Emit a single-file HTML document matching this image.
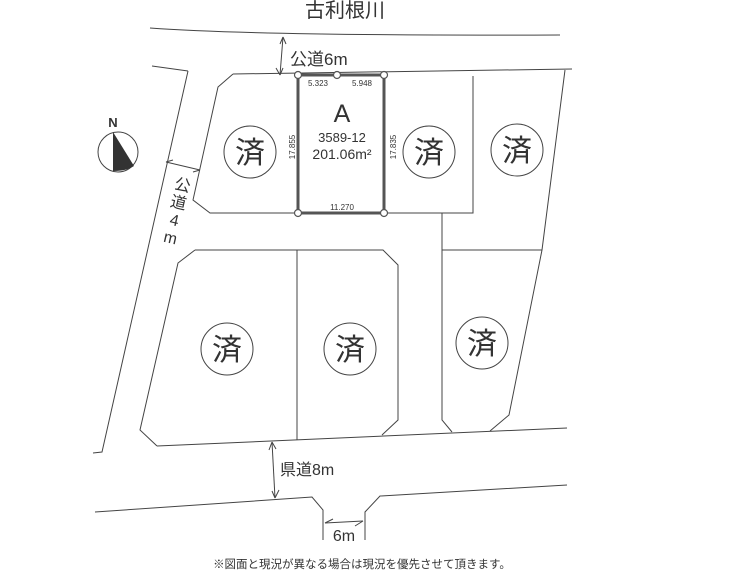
<!DOCTYPE html>
<html><head><meta charset="utf-8"><style>
html,body{margin:0;padding:0;background:#fff;}
svg{display:block;}
text{font-family:"Liberation Sans","Noto Sans CJK JP",sans-serif;fill:#333;}
</style></head><body>
<svg width="747" height="578" viewBox="0 0 747 578" xmlns="http://www.w3.org/2000/svg">
<g fill="none" stroke="#444" stroke-width="1">
<!-- river line -->
<path d="M150,28 Q260,36 560,35"/>
<!-- road6m lower left piece -->
<path d="M152,66 L188,71"/>
<!-- 4m road left edge -->
<path d="M188,71 L102,452 L93,453"/>
<!-- top lots top line -->
<path d="M233,74 L572,69"/>
<!-- top-left lot -->
<path d="M233,74 L218,87 L193,200 L210,213 L298,213"/>
<!-- lot right of A -->
<path d="M384,213 L473,213 L473,76"/>
<!-- far right lot -->
<path d="M565,70 L542,250 L509,415 L490,431"/>
<path d="M442,213 L442,420 L452,432"/>
<path d="M442,250 L542,250"/>
<!-- bottom lots -->
<path d="M195,250 L383,250 L398,265 L398,420 L382,435"/>
<path d="M195,250 L178,263 L140,430 L157,446"/>
<path d="M297,250 L297,440"/>
<!-- bottom road top -->
<path d="M157,446 L567,428"/>
<!-- bottom road lower -->
<path d="M95,512 L312,497 L323,510 L323,540"/>
<path d="M365,540 L365,512 L380,496 L567,485"/>
<!-- dimension lines -->
<path d="M283,37 L280,75"/>
<path d="M280,75 L276,68 M280,75 L283,68" />
<path d="M283,37 L280,44 M283,37 L286,44" />
<path d="M272,442 L275,498"/>
<path d="M272,442 L269,450 M272,442 L276,449"/>
<path d="M275,498 L272,491 M275,498 L279,490"/>
<path d="M325,523 L363,521"/>
<path d="M325,523 L333,519 M363,521 L355,526"/>
<path d="M166,162 L200,170"/>
<path d="M166,162 L173,160 M200,170 L193,172"/>
</g>
<!-- lot A -->
<rect x="298" y="75" width="86" height="138" fill="none" stroke="#555" stroke-width="3"/>
<g fill="#fff" stroke="#555" stroke-width="1.2">
<circle cx="298" cy="75" r="3.5"/><circle cx="337" cy="75" r="3.5"/><circle cx="384" cy="75" r="3.5"/>
<circle cx="298" cy="213" r="3.5"/><circle cx="384" cy="213" r="3.5"/>
</g>
<text x="342" y="122" font-size="25" text-anchor="middle">A</text>
<text x="342" y="142" font-size="13" text-anchor="middle">3589-12</text>
<text x="342" y="159" font-size="14" text-anchor="middle">201.06m²</text>
<text x="318" y="86" font-size="8" text-anchor="middle">5.323</text>
<text x="362" y="86" font-size="8" text-anchor="middle">5.948</text>
<text x="342" y="210" font-size="8" text-anchor="middle">11.270</text>
<text x="0" y="0" font-size="8" text-anchor="middle" transform="translate(295,147) rotate(-90)">17.855</text>
<text x="0" y="0" font-size="8" text-anchor="middle" transform="translate(396,147) rotate(-90)">17.835</text>
<!-- sold circles -->
<g fill="none" stroke="#444" stroke-width="1">
<circle cx="250" cy="152" r="26"/><circle cx="429" cy="152" r="26"/><circle cx="517" cy="150" r="26"/>
<circle cx="227" cy="349" r="26"/><circle cx="350" cy="349" r="26"/><circle cx="482" cy="343" r="26"/>
</g>
<g font-size="30" text-anchor="middle">
<text x="250" y="163">済</text><text x="429" y="163">済</text><text x="517" y="161">済</text>
<text x="227" y="360">済</text><text x="350" y="360">済</text><text x="482" y="354">済</text>
</g>
<!-- compass -->
<circle cx="118" cy="152" r="20" fill="#fff" stroke="#444"/>
<path d="M113,132 L113,171 Q127,171 134,166 Z" fill="#333"/>
<text x="113" y="127" font-size="13" font-weight="bold" text-anchor="middle">N</text>
<!-- labels -->
<text x="345" y="17" font-size="20" text-anchor="middle">古利根川</text>
<text x="290" y="65" font-size="17">公道6m</text>
<text x="280" y="475" font-size="16">県道8m</text>
<text x="344" y="541" font-size="16" text-anchor="middle">6m</text>
<g font-size="16" text-anchor="middle" transform="rotate(13 178 205)">
<text x="178" y="190">公</text><text x="178" y="208">道</text><text x="178" y="226">4</text><text x="178" y="244">m</text>
</g>
<text x="362" y="568" font-size="11.5" text-anchor="middle">※図面と現況が異なる場合は現況を優先させて頂きます。</text>
</svg>
</body></html>
